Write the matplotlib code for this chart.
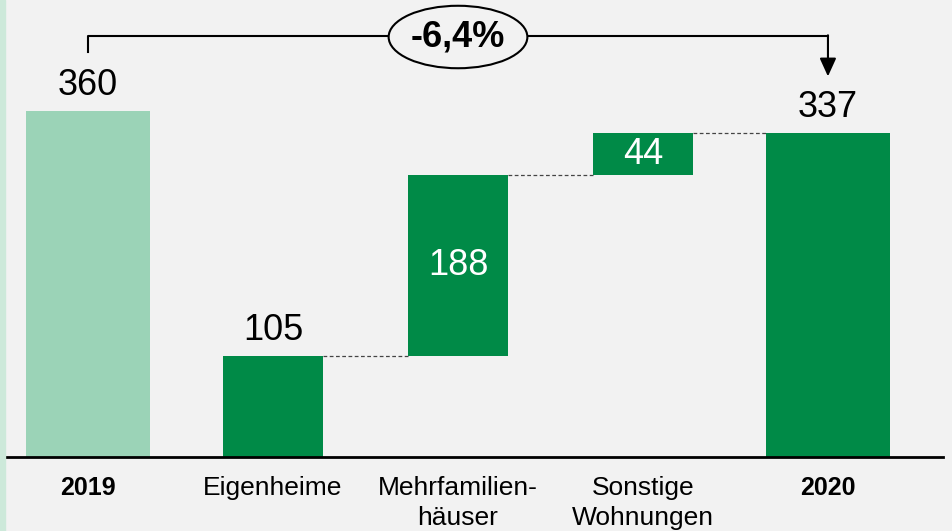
import matplotlib
matplotlib.use("Agg")
import matplotlib.pyplot as plt
from matplotlib.patches import Ellipse, Rectangle

# -----------------------------
# data
# -----------------------------
categories = ["2019", "Eigenheime", "Mehrfamilien-\nhäuser", "Sonstige\nWohnungen", "2020"]
values = [360, 105, 188, 44, 337]
bases = [0, 0, 105, 293, 0]
is_total = [True, False, False, False, True]
change_label = "-6,4%"

DARK = "#008a47"
LIGHT = "#9bd3b7"
BG = "#f2f2f2"

plt.rcParams["font.family"] = ["Liberation Sans", "DejaVu Sans"]

fig = plt.figure(figsize=(9.53, 5.31), dpi=100, facecolor=BG)
ax = fig.add_axes([0, 0, 1, 1])
ax.set_facecolor(BG)
ax.set_xlim(-0.476, 4.676)
ax.set_ylim(-77, 475.5)
ax.axis("off")

# light strip at the left border
fig.patches.append(Rectangle((0, 0), 0.0055, 1, transform=fig.transFigure,
                             color="#cde9da", zorder=0))

x = list(range(len(categories)))
widths = [0.67 if t else 0.54 for t in is_total]
colors = [LIGHT, DARK, DARK, DARK, DARK]

ax.bar(x, values, bottom=bases, width=widths, color=colors, zorder=2)

# baseline
ax.plot([-0.45, 4.62], [0, 0], color="black", lw=2, zorder=3)

# value labels
for i, (v, b) in enumerate(zip(values, bases)):
    if is_total[i] or b == 0:
        ax.text(i, b + v + 27, str(v), ha="center", va="center",
                fontsize=26, color="black")
    else:
        ax.text(i, b + v / 2, str(v), ha="center", va="center",
                fontsize=26, color="white")

# dashed connectors
for i in range(1, len(values) - 1):
    top = bases[i] + values[i]
    ax.plot([i + widths[i] / 2, i + 1 - widths[i + 1] / 2], [top, top],
            ls=(0, (3, 2)), color="#444444", lw=0.9, zorder=1)

# category labels
for i, c in enumerate(categories):
    ax.text(i, -20, c, ha="center", va="top",
            fontsize=18 if is_total[i] else 19,
            fontweight="bold" if is_total[i] else "normal", linespacing=1.32)

# bracket with change
y_br = 438
ax.plot([0, 0, 4], [421, y_br, y_br], color="black", lw=1.5, zorder=3)
ax.annotate("", xy=(4, 396), xytext=(4, y_br + 0.8),
            arrowprops=dict(arrowstyle="-|>,head_width=0.5,head_length=1.1",
                            color="black", lw=1.5, shrinkA=0, shrinkB=0))
ax.add_patch(Ellipse((2.0, 437), 0.75, 65, facecolor=BG, edgecolor="black",
                     lw=1.5, zorder=4))
ax.text(2.0, 437, change_label, ha="center", va="center", fontsize=26,
        fontweight="bold", zorder=5)

fig.savefig("out.png", dpi=100, facecolor=BG)
